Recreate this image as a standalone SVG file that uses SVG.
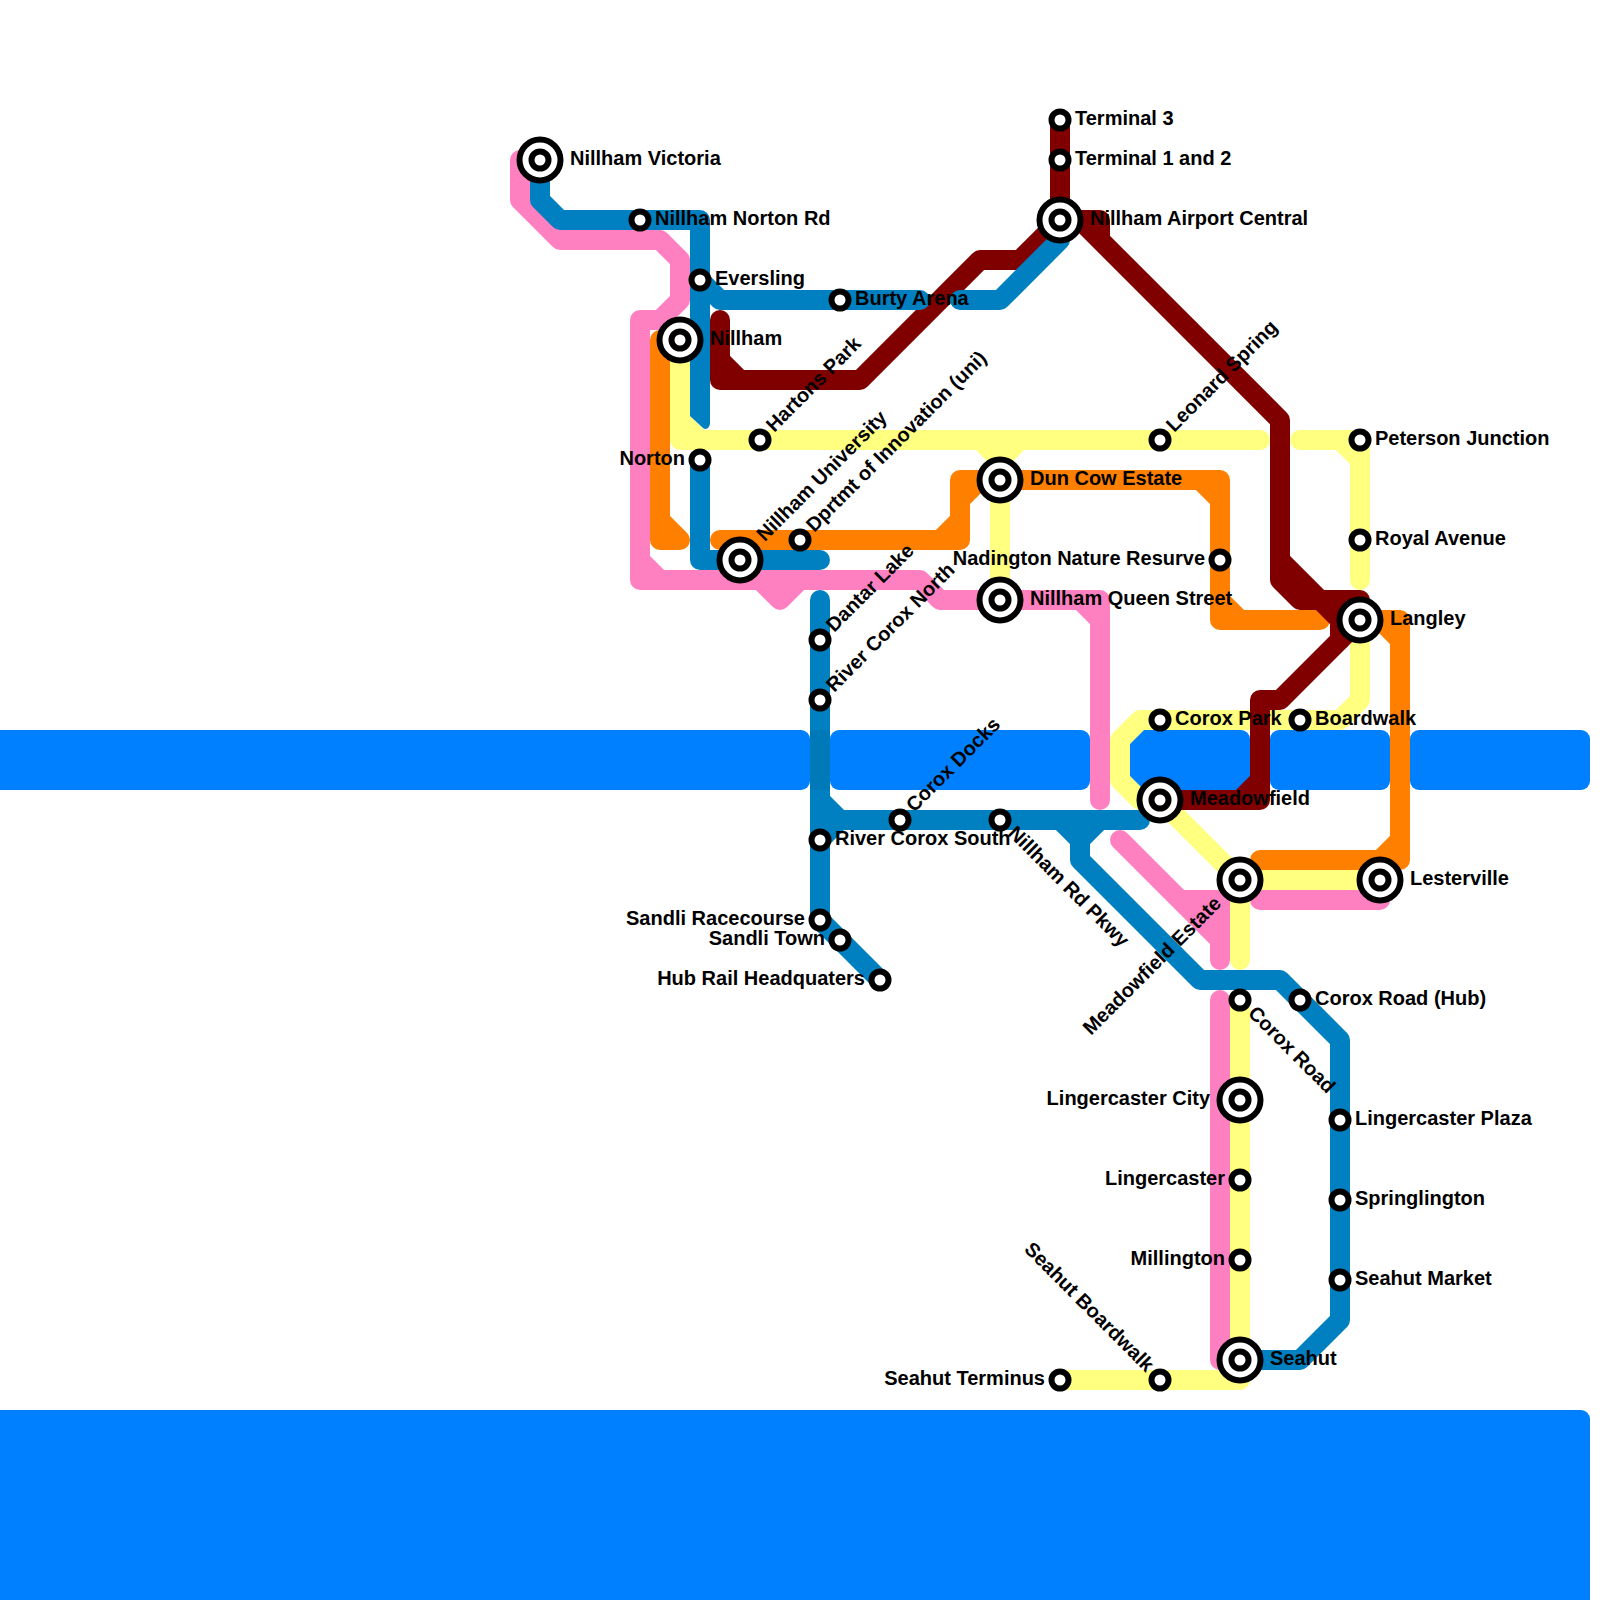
<svg xmlns="http://www.w3.org/2000/svg" xmlns:xlink="http://www.w3.org/1999/xlink" width="1600" height="1600" viewBox="0 0 1600 1600">
<style>
.w{fill:#0080ff}
.l{fill:none;stroke-width:20;stroke-linecap:round;stroke-linejoin:round}
.y{stroke:#ffff80}.p{stroke:#ff80c0}.m{stroke:#800000}.o{stroke:#ff8000}.b{stroke:#0080c0}
.r{fill:#fff;stroke:#000;stroke-width:6}
text{font-family:"Liberation Sans",Arial,sans-serif;font-weight:bold;font-size:20px;fill:#000}
.e{text-anchor:end}
</style>
<defs>
<g id="s"><circle class="r" r="8.5"/></g>
<g id="i"><circle class="r" r="20.5"/><circle class="r" r="8.5"/></g>
</defs>
<rect width="1600" height="1600" fill="#fff"/>
<g id="water">
<rect class="w" x="-20" y="730" width="830" height="60" rx="9"/>
<rect class="w" x="830" y="730" width="260" height="60" rx="9"/>
<rect class="w" x="1120" y="730" width="130" height="60" rx="9"/>
<rect class="w" x="1270" y="730" width="120" height="60" rx="9"/>
<rect class="w" x="1410" y="730" width="180" height="60" rx="9"/>
<rect class="w" x="-20" y="1410" width="1610" height="200" rx="9"/>
</g>
<g id="connectors">
<path class="l y" d="M680 340V440H1260M680 420L700 440M980 440L1000 460L1020 440M1000 460V600M1300 440H1360V580M1340 440L1360 460"/>
<path class="l y" d="M1360 620V700L1340 720H1140L1120 740V780L1140 800H1160M1160 800L1240 880M1240 880H1380M1240 880V960M1240 1000V1380H1060"/>
<path class="l m" d="M720 320V380H860L980 260H1020L1060 220M720 360L740 380M1060 120V220H1100V240M1080 220L1280 420V580L1300 600H1360V620M1280 560L1320 600M1340 600L1360 620M1360 620L1280 700H1260V800H1160M1240 800L1260 780"/>
<path class="l o" d="M680 340H660V540H680M660 520L680 540M720 540H960V480H1220V620H1320M940 540L960 520M960 500L980 480M1200 480L1220 500M1220 600L1240 620M1360 620H1400V860H1260M1380 620L1400 640M1380 860L1400 840"/>
<path class="l m" d="M1320 600L1340 620V640"/>
<path class="l p" d="M540 160H520V200L560 240H660L680 260V300L660 320H640V580H920L940 600H1100V800M640 560L660 580M760 580L780 600L800 580M1080 600L1100 620M1260 900H1380M1220 1000V1360H1240"/>
<path class="l p" style="fill:#ff80c0" d="M1120 840L1180 900H1220V960V940L1180 900"/>
<path class="l b" d="M540 160V200L560 220H700V410M700 280L720 300H920M960 300H1000L1060 240M700 460V560H820M820 600V920L880 980M820 800L840 820H1140M820 840L840 820M1060 820L1080 840V860L1200 980H1280L1340 1040V1320L1300 1360H1240M1100 820L1080 840"/>
<path fill="#0080c0" d="M690 400V416L703 428Q708 431 710 424V400Z"/>
<rect x="810" y="730" width="20" height="60" fill="#0079b8"/>
</g>
<g id="n-victoria" transform="translate(540,160)"><use href="#i"/><text x="30" y="5">Nillham Victoria</text></g>
<g id="n-norton-rd" transform="translate(640,220)"><use href="#s"/><text x="15" y="5">Nillham Norton Rd</text></g>
<g id="n-eversling" transform="translate(700,280)"><use href="#s"/><text x="15" y="5">Eversling</text></g>
<g id="n-burty" transform="translate(840,300)"><use href="#s"/><text x="15" y="5">Burty Arena</text></g>
<g id="n-nillham" transform="translate(680,340)"><use href="#i"/><text x="30" y="5">Nillham</text></g>
<g id="n-hartons" transform="translate(760,440) rotate(-45)"><use href="#s"/><text x="15" y="5">Hartons Park</text></g>
<g id="n-norton" transform="translate(700,460)"><use href="#s"/><text class="e" x="-15" y="5">Norton</text></g>
<g id="n-university" transform="translate(740,560) rotate(-45)"><use href="#i"/><text x="30" y="5">Nillham University</text></g>
<g id="n-dprtmt" transform="translate(800,540) rotate(-45)"><use href="#s"/><text x="15" y="5">Dprtmt of Innovation (uni)</text></g>
<g id="n-dun-cow" transform="translate(1000,480)"><use href="#i"/><text x="30" y="5">Dun Cow Estate</text></g>
<g id="n-queen" transform="translate(1000,600)"><use href="#i"/><text x="30" y="5">Nillham Queen Street</text></g>
<g id="n-nadington" transform="translate(1220,560)"><use href="#s"/><text class="e" x="-15" y="5">Nadington Nature Resurve</text></g>
<g id="n-t3" transform="translate(1060,120)"><use href="#s"/><text x="15" y="5">Terminal 3</text></g>
<g id="n-t12" transform="translate(1060,160)"><use href="#s"/><text x="15" y="5">Terminal 1 and 2</text></g>
<g id="n-airport" transform="translate(1060,220)"><use href="#i"/><text x="30" y="5">Nillham Airport Central</text></g>
<g id="n-leonard" transform="translate(1160,440) rotate(-45)"><use href="#s"/><text x="15" y="5">Leonard Spring</text></g>
<g id="n-peterson" transform="translate(1360,440)"><use href="#s"/><text x="15" y="5">Peterson Junction</text></g>
<g id="n-royal" transform="translate(1360,540)"><use href="#s"/><text x="15" y="5">Royal Avenue</text></g>
<g id="n-langley" transform="translate(1360,620)"><use href="#i"/><text x="30" y="5">Langley</text></g>
<g id="n-dantar" transform="translate(820,640) rotate(-45)"><use href="#s"/><text x="15" y="5">Dantar Lake</text></g>
<g id="n-rc-north" transform="translate(820,700) rotate(-45)"><use href="#s"/><text x="15" y="5">River Corox North</text></g>
<g id="n-corox-docks" transform="translate(900,820) rotate(-45)"><use href="#s"/><text x="15" y="5">Corox Docks</text></g>
<g id="n-pkwy" transform="translate(1000,820) rotate(45)"><use href="#s"/><text x="15" y="5">Nillham Rd Pkwy</text></g>
<g id="n-rc-south" transform="translate(820,840)"><use href="#s"/><text x="15" y="5">River Corox South</text></g>
<g id="n-racecourse" transform="translate(820,920)"><use href="#s"/><text class="e" x="-15" y="5">Sandli Racecourse</text></g>
<g id="n-sandli" transform="translate(840,940)"><use href="#s"/><text class="e" x="-15" y="5">Sandli Town</text></g>
<g id="n-hub-rail" transform="translate(880,980)"><use href="#s"/><text class="e" x="-15" y="5">Hub Rail Headquaters</text></g>
<g id="n-corox-park" transform="translate(1160,720)"><use href="#s"/><text x="15" y="5">Corox Park</text></g>
<g id="n-boardwalk" transform="translate(1300,720)"><use href="#s"/><text x="15" y="5">Boardwalk</text></g>
<g id="n-meadowfield" transform="translate(1160,800)"><use href="#i"/><text x="30" y="5">Meadowfield</text></g>
<g id="n-lesterville" transform="translate(1380,880)"><use href="#i"/><text x="30" y="5">Lesterville</text></g>
<g id="n-m-estate" transform="translate(1240,880) rotate(-45)"><use href="#i"/><text class="e" x="-30" y="5">Meadowfield Estate</text></g>
<g id="n-corox-road" transform="translate(1240,1000) rotate(45)"><use href="#s"/><text x="15" y="5">Corox Road</text></g>
<g id="n-corox-hub" transform="translate(1300,1000)"><use href="#s"/><text x="15" y="5">Corox Road (Hub)</text></g>
<g id="n-l-city" transform="translate(1240,1100)"><use href="#i"/><text class="e" x="-30" y="5">Lingercaster City</text></g>
<g id="n-lingercaster" transform="translate(1240,1180)"><use href="#s"/><text class="e" x="-15" y="5">Lingercaster</text></g>
<g id="n-millington" transform="translate(1240,1260)"><use href="#s"/><text class="e" x="-15" y="5">Millington</text></g>
<g id="n-seahut" transform="translate(1240,1360)"><use href="#i"/><text x="30" y="5">Seahut</text></g>
<g id="n-plaza" transform="translate(1340,1120)"><use href="#s"/><text x="15" y="5">Lingercaster Plaza</text></g>
<g id="n-springlington" transform="translate(1340,1200)"><use href="#s"/><text x="15" y="5">Springlington</text></g>
<g id="n-market" transform="translate(1340,1280)"><use href="#s"/><text x="15" y="5">Seahut Market</text></g>
<g id="n-s-boardwalk" transform="translate(1160,1380) rotate(45)"><use href="#s"/><text class="e" x="-15" y="5">Seahut Boardwalk</text></g>
<g id="n-terminus" transform="translate(1060,1380)"><use href="#s"/><text class="e" x="-15" y="5">Seahut Terminus</text></g>
</svg>
